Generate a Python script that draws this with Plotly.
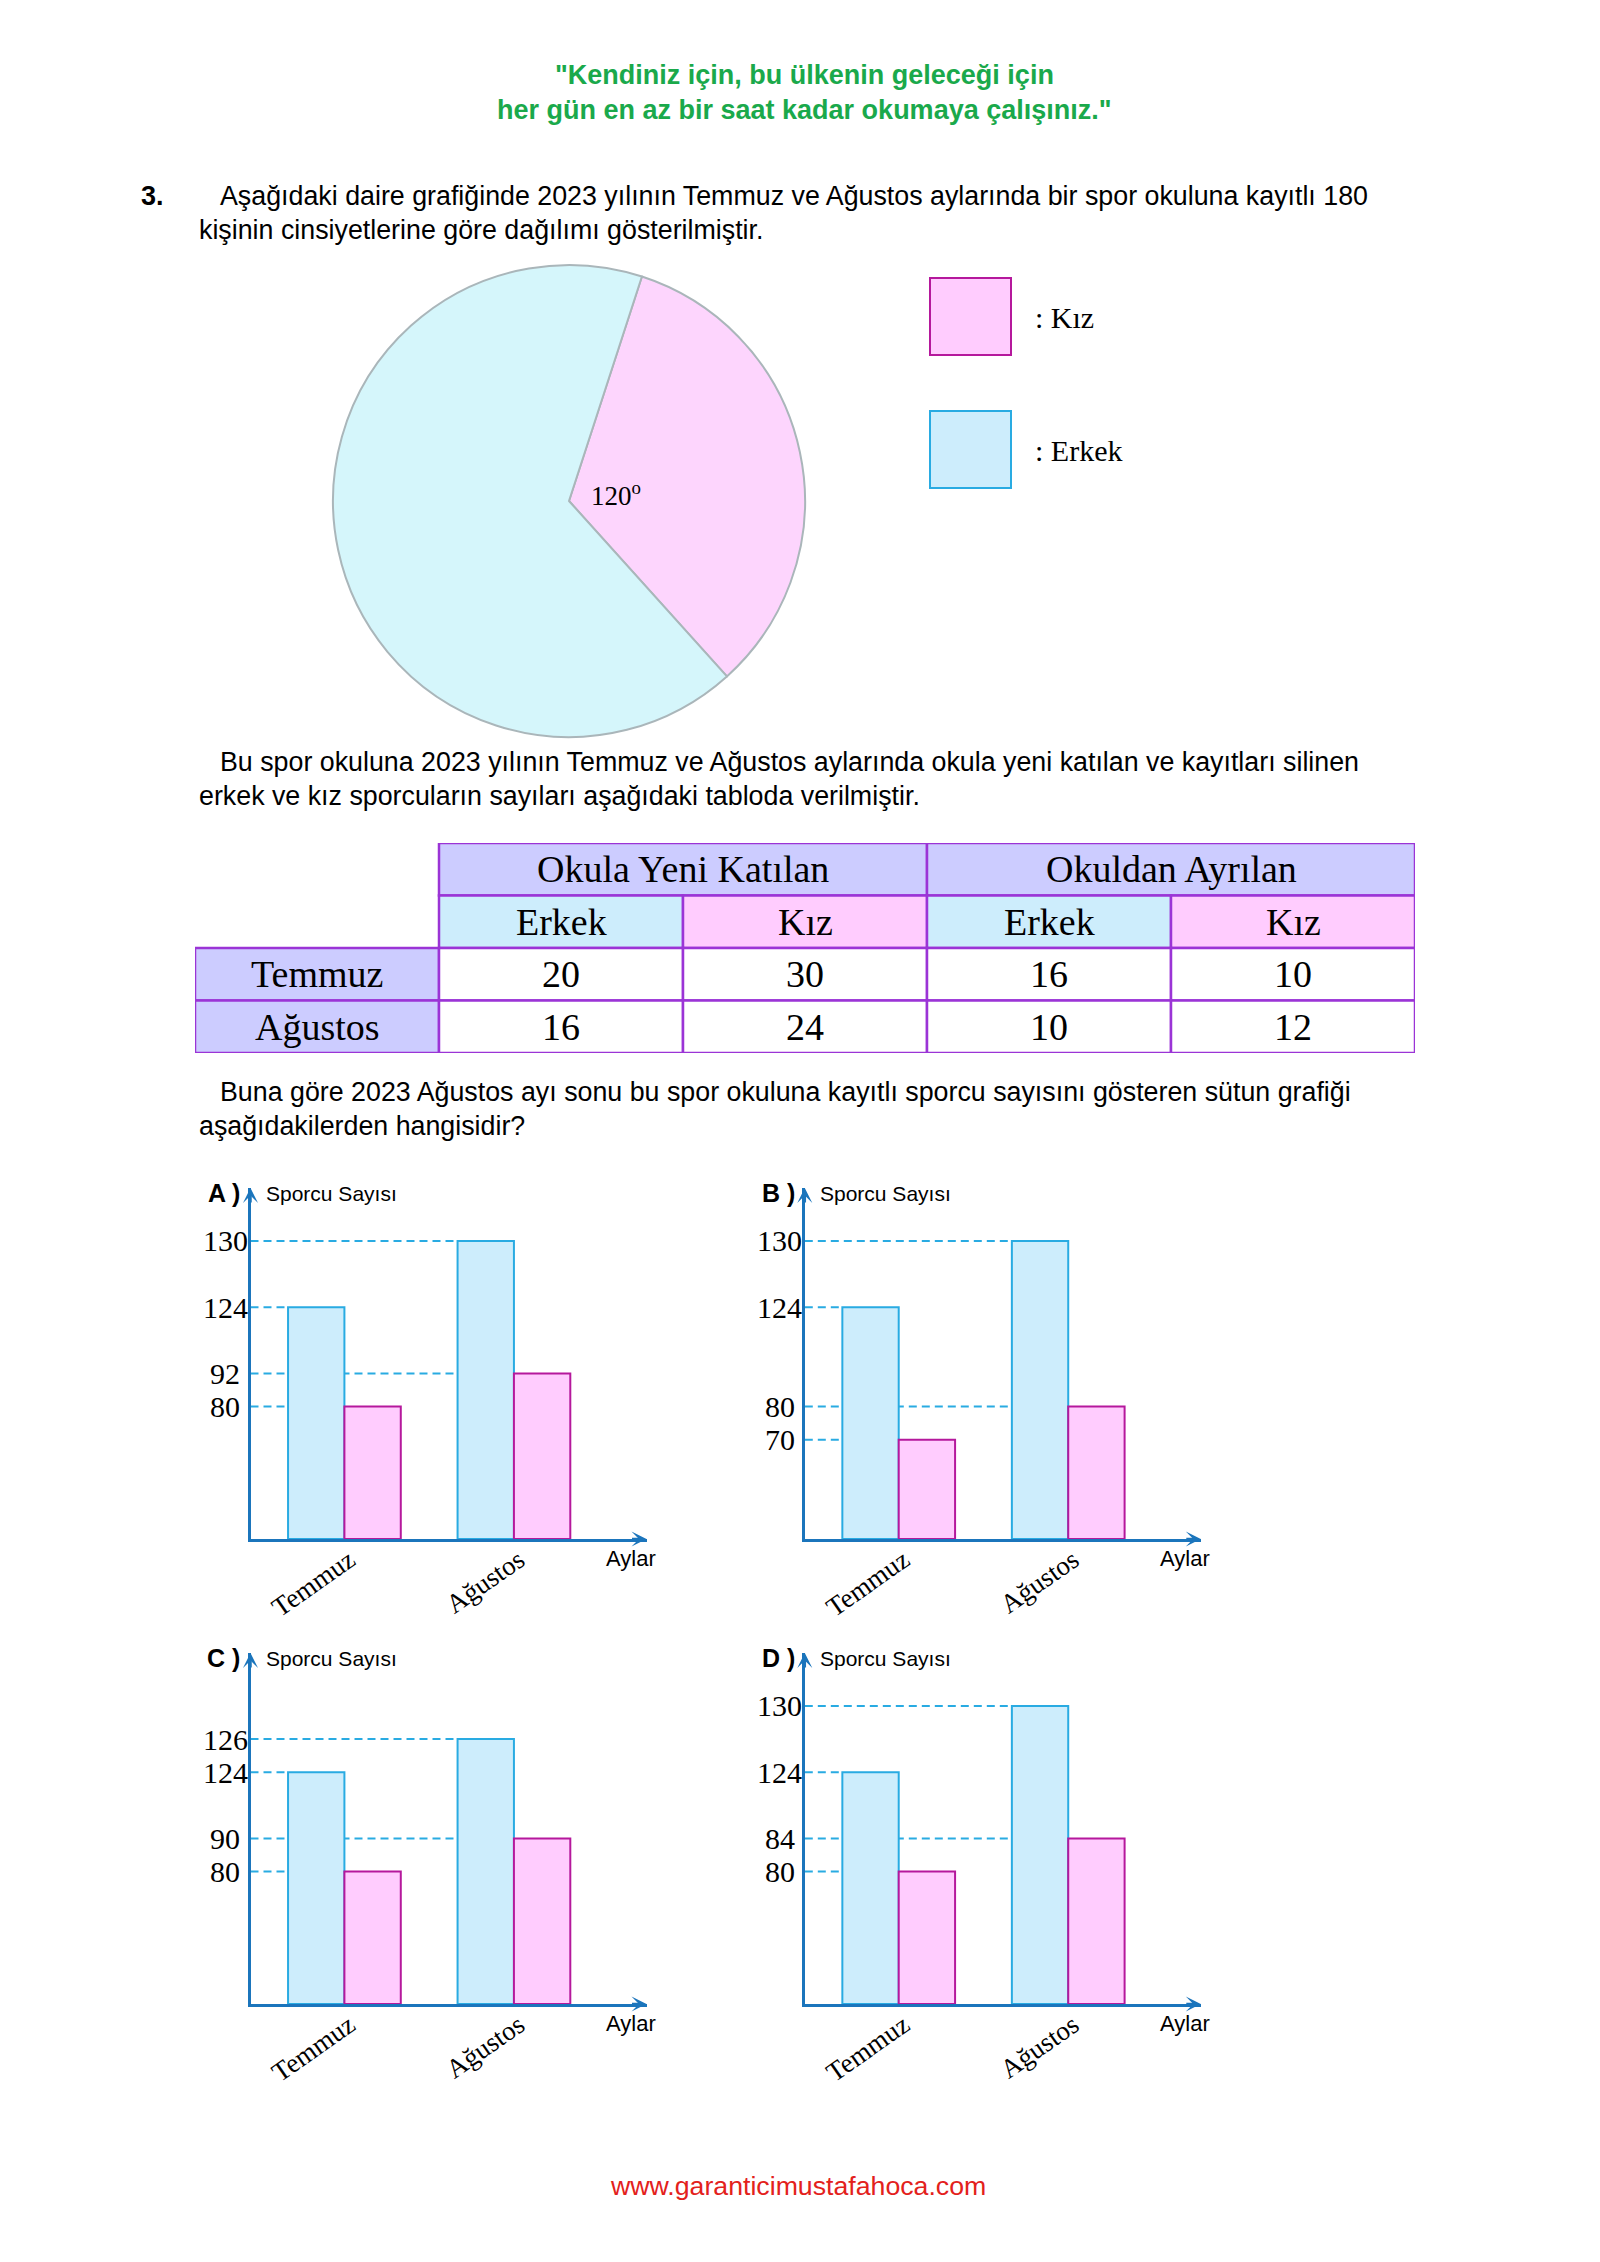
import plotly.graph_objects as go

W, H = 1600, 2262
PAGE_MARGIN = 8  # default body margin of the html page
FIG_W, FIG_H = W - PAGE_MARGIN, H - PAGE_MARGIN

# ---------------- data ----------------
pie_labels = ["Kız", "Erkek"]
pie_degrees = [120, 240]

table_groups = ["Okula Yeni Katılan", "Okuldan Ayrılan"]
table_subcols = ["Erkek", "Kız", "Erkek", "Kız"]
table_rows = ["Temmuz", "Ağustos"]
table_temmuz = [20, 30, 16, 10]
table_agustos = [16, 24, 10, 12]

months = ["Temmuz", "Ağustos"]
a_erkek = [124, 130]
a_kiz = [80, 92]
b_erkek = [124, 130]
b_kiz = [70, 80]
c_erkek = [124, 126]
c_kiz = [80, 90]
d_erkek = [124, 130]
d_kiz = [80, 84]

# y-axis ladders (one entry per grid step, bottom to top;
# the worksheet's charts are schematic, so the axis is a category ladder)
a_ladder = ["0", "", "", "", "80", "92", "", "124", "", "130"]
b_ladder = ["0", "", "", "70", "80", "", "", "124", "", "130"]
c_ladder = ["0", "", "", "", "80", "90", "", "124", "126", ""]
d_ladder = ["0", "", "", "", "80", "84", "", "124", "", "130"]

header_lines = ['"Kendiniz için, bu ülkenin geleceği için',
                'her gün en az bir saat kadar okumaya çalışınız."']
q1 = ["Aşağıdaki daire grafiğinde 2023 yılının Temmuz ve Ağustos aylarında bir spor okuluna kayıtlı 180",
      "kişinin cinsiyetlerine göre dağılımı gösterilmiştir."]
q2 = ["Bu spor okuluna 2023 yılının Temmuz ve Ağustos aylarında okula yeni katılan ve kayıtları silinen",
      "erkek ve kız sporcuların sayıları aşağıdaki tabloda verilmiştir."]
q3 = ["Buna göre 2023 Ağustos ayı sonu bu spor okuluna kayıtlı sporcu sayısını gösteren sütun grafiği",
      "aşağıdakilerden hangisidir?"]
footer = "www.garanticimustafahoca.com"

# ---------------- style ----------------
SANS = "Liberation Sans, Arial, sans-serif"
SERIF = "Liberation Serif, Times New Roman, serif"
GREEN = "#1aa94b"
RED = "#e3211b"
AXC = "#1b75bc"
DASHC = "#29abe2"
BLUE_FILL = "#cdedfc"
BLUE_LINE = "#29abe2"
PINK_FILL = "#ffccfe"
PINK_LINE = "#b5189c"
LAV = "#ccccff"
TBL_BORDER = "#9b34d6"


def fx(px):
    return (px - PAGE_MARGIN) / FIG_W


def fy(py):
    return 1 - (py - PAGE_MARGIN) / FIG_H


fig = go.Figure()
annotations = []
shapes = []
layout = {}

# ---------------- texts ----------------
for i, t in enumerate(header_lines):
    annotations.append(dict(xref="paper", yref="paper", x=fx(804), y=fy(75 + 35 * i), text="<b>%s</b>" % t,
                            showarrow=False, xanchor="center", yanchor="middle",
                            font=dict(family=SANS, size=27, color=GREEN)))

annotations.append(dict(xref="paper", yref="paper", x=fx(139), y=fy(196), text="<b>3.</b>", showarrow=False,
                        xanchor="left", yanchor="middle", font=dict(family=SANS, size=27, color="black")))
for lines, y0 in ((q1, 196), (q2, 762), (q3, 1092)):
    for i, t in enumerate(lines):
        annotations.append(dict(xref="paper", yref="paper", x=fx(218 if i == 0 else 197), y=fy(y0 + 34 * i),
                                text=t, showarrow=False, xanchor="left", yanchor="middle",
                                font=dict(family=SANS, size=26.8, color="black")))

annotations.append(dict(xref="paper", yref="paper", x=fx(798), y=fy(2186), text=footer, showarrow=False,
                        xanchor="center", yanchor="middle", font=dict(family=SANS, size=26.7, color=RED)))

# ---------------- pie ----------------
fig.add_trace(go.Pie(labels=pie_labels, values=pie_degrees, sort=False, direction="clockwise", rotation=18,
                     marker=dict(colors=["#fdd5fd", "#d5f6fb"], line=dict(color="#aab6ba", width=2)),
                     textinfo="none", hoverinfo="skip", showlegend=False,
                     domain=dict(x=[fx(333), fx(805)], y=[fy(737), fy(265)])))
annotations.append(dict(xref="paper", yref="paper", x=fx(589), y=fy(494),
                        text="%d<sup>o</sup>" % pie_degrees[0], showarrow=False, xanchor="left", yanchor="middle",
                        font=dict(family=SERIF, size=27, color="black")))

# legend swatches
for lab, fill, line, top in (("Kız", PINK_FILL, PINK_LINE, 278), ("Erkek", BLUE_FILL, BLUE_LINE, 411)):
    shapes.append(dict(type="rect", xref="paper", yref="paper", x0=fx(930), x1=fx(1011), y0=fy(top + 77),
                       y1=fy(top), fillcolor=fill, line=dict(color=line, width=2)))
    annotations.append(dict(xref="paper", yref="paper", x=fx(1033), y=fy(top + 39), text=": " + lab,
                            showarrow=False, xanchor="left", yanchor="middle",
                            font=dict(family=SERIF, size=30, color="black")))

# ---------------- table ----------------
layout["xaxis5"] = dict(domain=[fx(195), fx(1415)], range=[0, 5], visible=False, fixedrange=True)
layout["yaxis5"] = dict(domain=[fy(1053), fy(843)], range=[4, 0], visible=False, fixedrange=True)
TF = dict(family=SERIF, size=38, color="black")


def cell(c0, c1, r, fill, text):
    shapes.append(dict(type="rect", xref="x5", yref="y5", x0=c0, x1=c1, y0=r, y1=r + 1, fillcolor=fill,
                       line=dict(color=TBL_BORDER, width=2.5), layer="above"))
    annotations.append(dict(xref="x5", yref="y5", x=(c0 + c1) / 2, y=r + 0.5, text=text, showarrow=False,
                            xanchor="center", yanchor="middle", font=TF))


for g, name in enumerate(table_groups):
    cell(1 + 2 * g, 3 + 2 * g, 0, LAV, name)
for c, name in enumerate(table_subcols):
    cell(1 + c, 2 + c, 1, BLUE_FILL if name == "Erkek" else PINK_FILL, name)
for r, (name, vals) in enumerate(zip(table_rows, (table_temmuz, table_agustos))):
    cell(0, 1, 2 + r, LAV, name)
    for c, v in enumerate(vals):
        cell(1 + c, 2 + c, 2 + r, "white", str(v))

# ---------------- option charts ----------------
panels = [
    dict(letter="A", erkek=a_erkek, kiz=a_kiz, ladder=a_ladder, axis_px=250.5, base_px=1539),
    dict(letter="B", erkek=b_erkek, kiz=b_kiz, ladder=b_ladder, axis_px=804.8, base_px=1539),
    dict(letter="C", erkek=c_erkek, kiz=c_kiz, ladder=c_ladder, axis_px=250.5, base_px=2004),
    dict(letter="D", erkek=d_erkek, kiz=d_kiz, ladder=d_ladder, axis_px=804.8, base_px=2004),
]
PANEL_W = 396.0
PANEL_H = 351.0
BAR_W = 0.3325
XMIN, XMAX = -0.554, 1.782
YTOP = 10.6

for i, p in enumerate(panels):
    n = "" if i == 0 else str(i + 1)
    cats = [lab if lab else "\u200b" * (k + 1) for k, lab in enumerate(p["ladder"])]
    xa, ya = "x" + n, "y" + n
    fig.add_trace(go.Bar(x=months, y=[str(v) for v in p["erkek"]], xaxis=xa, yaxis=ya, name="Erkek",
                         marker=dict(color=BLUE_FILL, line=dict(color=BLUE_LINE, width=2)),
                         hoverinfo="skip", showlegend=False))
    fig.add_trace(go.Bar(x=months, y=[str(v) for v in p["kiz"]], xaxis=xa, yaxis=ya, name="Kız",
                         marker=dict(color=PINK_FILL, line=dict(color=PINK_LINE, width=2)),
                         hoverinfo="skip", showlegend=False))
    layout["xaxis" + n] = dict(domain=[fx(p["axis_px"]), fx(p["axis_px"] + PANEL_W)], range=[XMIN, XMAX],
                               type="category", anchor=ya, showline=True, linecolor=AXC, linewidth=2.5,
                               showgrid=False, zeroline=False, ticks="", tickangle=-35, ticklabelstandoff=-8,
                               ticklabelshift=5, tickfont=dict(family=SERIF, size=27, color="black"),
                               fixedrange=True)
    layout["yaxis" + n] = dict(domain=[fy(p["base_px"]), fy(p["base_px"] - PANEL_H)], range=[0, YTOP],
                               type="category", categoryorder="array", categoryarray=cats, anchor=xa,
                               showline=True, linecolor=AXC, linewidth=2.5, showgrid=False, zeroline=False,
                               showticklabels=False, ticks="", fixedrange=True)
    # dashed guide lines from the axis to each bar group
    for series in (p["erkek"], p["kiz"]):
        for g, v in enumerate(series):
            yi = cats.index(str(v))
            shapes.append(dict(type="line", xref=xa, yref=ya, x0=XMIN, x1=g - BAR_W, y0=yi, y1=yi,
                               line=dict(color=DASHC, width=2, dash="8px,5px"), layer="below"))
    # value labels on the y axis
    for k, lab in enumerate(p["ladder"]):
        if lab and lab != "0":
            annotations.append(dict(xref=xa + " domain", yref=ya, x=-25 / PANEL_W, y=k, text=lab,
                                    showarrow=False, xanchor="center", yanchor="middle",
                                    font=dict(family=SERIF, size=30, color="black")))
    # axis arrow heads
    annotations.append(dict(xref=xa + " domain", yref=ya + " domain", x=0, y=1, ax=0, ay=16, text="",
                            showarrow=True, arrowhead=3, arrowsize=1, arrowwidth=2.5, arrowcolor=AXC))
    annotations.append(dict(xref=xa + " domain", yref=ya + " domain", x=1, y=0, ax=-16, ay=0, text="",
                            showarrow=True, arrowhead=3, arrowsize=1, arrowwidth=2.5, arrowcolor=AXC))
    # titles
    annotations.append(dict(xref=xa + " domain", yref=ya + " domain", x=-8 / PANEL_W, y=1 - 5 / PANEL_H,
                            text="<b>%s )</b>" % p["letter"], showarrow=False, xanchor="right",
                            yanchor="middle", font=dict(family=SANS, size=25, color="black")))
    annotations.append(dict(xref=xa + " domain", yref=ya + " domain", x=13 / PANEL_W, y=1 - 5 / PANEL_H,
                            text="Sporcu Sayısı", showarrow=False, xanchor="left", yanchor="middle",
                            font=dict(family=SANS, size=21, color="black")))
    annotations.append(dict(xref=xa + " domain", yref=ya + " domain", x=0.96, y=-19 / PANEL_H,
                            text="Aylar", showarrow=False, xanchor="center", yanchor="middle",
                            font=dict(family=SANS, size=22, color="black")))

fig.update_layout(width=FIG_W, height=FIG_H, margin=dict(l=0, r=0, t=0, b=0), paper_bgcolor="white",
                  plot_bgcolor="rgba(0,0,0,0)", showlegend=False, barmode="group", bargap=0.335,
                  bargroupgap=0, annotations=annotations, shapes=shapes, **layout)

fig.write_html("out.html", config={"displayModeBar": False})
